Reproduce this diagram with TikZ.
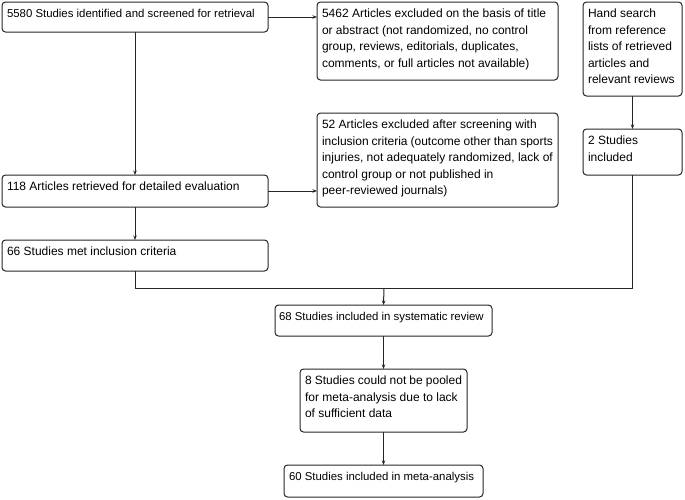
\documentclass[tikz,border=0pt]{standalone}
\usepackage{fontspec}
\setmainfont{Liberation Sans}
\usetikzlibrary{arrows.meta}
\tikzset{
 flowbox/.style={draw=black!85, line width=1pt, rounded corners=3.5pt, inner xsep=5pt, inner ysep=0pt, anchor=north west, outer sep=0pt},
 flowline/.style={draw=black!85, line width=1pt},
 flowarrow/.style={flowline, -{Stealth[length=4.5pt,width=3.5pt]}}
}
\newcommand{\bxt}[3]{\parbox[t][#2pt][t]{#1pt}{\raggedright\hfuzz=20pt\fontsize{12}{16.5}\selectfont\rule{0pt}{15.5pt}#3}}
\newcommand{\smtxt}[1]{{\fontsize{11.4}{16.5}\selectfont #1}}
\begin{document}
\begin{tikzpicture}[x=1pt,y=-1pt]
\useasboundingbox (0,0) rectangle (685,499);
\node[flowbox] (A) at (2,2) {\bxt{256}{30}{\mbox{\smtxt{5580 Studies identified and screened for retrieval}}}};
\node[flowbox] (B) at (317,2) {\bxt{231}{78}{5462 Articles excluded on the basis of title\\ or abstract (not randomized, no control\\ group, reviews, editorials, duplicates,\\ comments, or full articles not available)}};
\node[flowbox] (H) at (583,2) {\bxt{89}{94}{Hand search\\ from reference\\ lists of retrieved\\ articles and\\ relevant reviews}};
\node[flowbox] (C) at (317,113) {\bxt{231}{94}{52 Articles excluded after screening with\\ inclusion criteria (outcome other than sports\\ injuries, not adequately randomized, lack of\\ control group or not published in\\ peer-reviewed journals)}};
\node[flowbox] (D) at (583,129) {\bxt{89}{46}{2 Studies\\ included}};
\node[flowbox] (E) at (2,175) {\bxt{256}{32}{\mbox{118 Articles retrieved for detailed evaluation}}};
\node[flowbox] (F) at (2,240) {\bxt{256}{31}{\mbox{66 Studies met inclusion criteria}}};
\node[flowbox, inner xsep=4pt] (G) at (275,305) {\bxt{209}{31}{\mbox{\smtxt{68 Studies included in systematic review}}}};
\node[flowbox] (I) at (300,369) {\bxt{157}{63}{8 Studies could not be pooled\\ for meta-analysis due to lack\\ of sufficient data}};
\node[flowbox] (J) at (284,465) {\bxt{189}{32}{\mbox{\smtxt{60 Studies included in meta-analysis}}}};
\coordinate (mrg) at (384,288);
\draw[flowarrow] (A.east) -- (A.east -| B.west);
\draw[flowarrow] (A.south) -- (E.north);
\draw[flowarrow] (E.east) -- (E.east -| C.west);
\draw[flowarrow] (E.south) -- (F.north);
\draw[flowarrow] (H.south) -- (D.north);
\draw[flowline] (F.south) |- (D.south |- mrg) -- (D.south);
\draw[flowarrow] (mrg) -- (G.north);
\draw[flowarrow] (G.south) -- (I.north);
\draw[flowarrow] (I.south) -- (J.north);
\end{tikzpicture}
\end{document}
